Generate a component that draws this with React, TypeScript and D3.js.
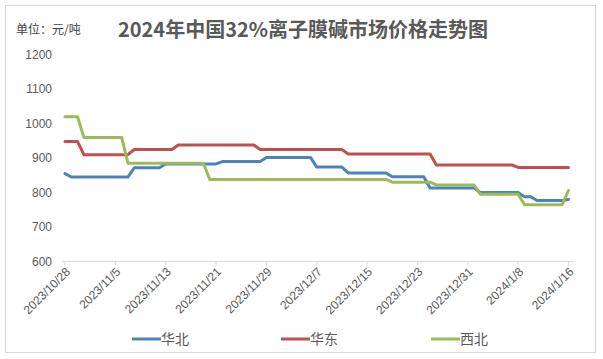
import * as d3 from 'd3';

// 华北 / 华东 / 西北 价格拐点（元/吨）
const huabeiDates = ['2023/10/28', '2023/10/29', '2023/11/7', '2023/11/8', '2023/11/12', '2023/11/13', '2023/11/21', '2023/11/22', '2023/11/28', '2023/11/29', '2023/12/6', '2023/12/7', '2023/12/11', '2023/12/12', '2023/12/18', '2023/12/19', '2023/12/24', '2023/12/25', '2024/1/1', '2024/1/2', '2024/1/8', '2024/1/9', '2024/1/10', '2024/1/11', '2024/1/15', '2024/1/16'];
const huabeiValues = [855, 845, 845, 872, 872, 883, 883, 890, 890, 902, 902, 874, 874, 857, 857, 846, 846, 813, 813, 800, 800, 788, 788, 777, 777, 780];

const huadongDates = ['2023/10/28', '2023/10/30', '2023/10/31', '2023/11/7', '2023/11/8', '2023/11/14', '2023/11/15', '2023/11/27', '2023/11/28', '2023/12/11', '2023/12/12', '2023/12/25', '2023/12/26', '2024/1/7', '2024/1/8', '2024/1/16'];
const huadongValues = [948, 948, 910, 910, 925, 925, 938, 938, 925, 925, 912, 912, 880, 880, 873, 873];

const xibeiDates = ['2023/10/28', '2023/10/30', '2023/10/31', '2023/11/6', '2023/11/7', '2023/11/19', '2023/11/20', '2023/12/18', '2023/12/19', '2023/12/25', '2023/12/26', '2024/1/1', '2024/1/2', '2024/1/8', '2024/1/9', '2024/1/15', '2024/1/16'];
const xibeiValues = [1020, 1020, 960, 960, 885, 885, 838, 838, 830, 830, 822, 822, 795, 795, 765, 765, 806];

const xTickLabels = ['2023/10/28', '2023/11/5', '2023/11/13', '2023/11/21', '2023/11/29', '2023/12/7', '2023/12/15', '2023/12/23', '2023/12/31', '2024/1/8', '2024/1/16'];
const yTicks = [600, 700, 800, 900, 1000, 1100, 1200];

const seriesNames = ['华北', '华东', '西北'];
const seriesColors = ['#4f81bd', '#c0504d', '#9bbb59'];

const parseDate = (s: string) => {
  const [y, m, d] = s.split('/').map(Number);
  return new Date(y, m - 1, d);
};

export default function App() {
  const width = 603;
  const height = 359;
  const font = '"Liberation Sans", Arial, "Noto Sans CJK SC", sans-serif';
  const cjk = '"Noto Sans CJK SC", sans-serif';

  const x = d3.scaleTime()
    .domain([parseDate('2023/10/28'), parseDate('2024/1/16')])
    .range([65, 568.5]);
  const y = d3.scaleLinear().domain([600, 1200]).range([261.5, 54.7]);

  const series = [
    { dates: huabeiDates, values: huabeiValues },
    { dates: huadongDates, values: huadongValues },
    { dates: xibeiDates, values: xibeiValues },
  ];

  const line = d3.line<[Date, number]>()
    .x(d => x(d[0]))
    .y(d => y(d[1]));

  const legendX = [132, 281, 431];

  return (
    <svg width={width} height={height} style={{ position: 'absolute', left: 0, top: 0, background: '#fff' }}>
      <rect x={5.5} y={5.5} width={590} height={347} fill="#fff" stroke="#d9d9d9" />

      {/* title and unit */}
      <text x={16} y={34} fontSize={12} fill="#404040" fontFamily={cjk}>单位：元/吨</text>
      <text x={303} y={37} textAnchor="middle" fontSize={20} fontWeight="bold" fill="#595959" fontFamily={cjk}>
        2024年中国32%离子膜碱市场价格走势图
      </text>

      {/* y labels */}
      {yTicks.map(t => (
        <text key={t} x={52} y={y(t)} dy="0.35em" textAnchor="end" fontSize={12} fill="#595959" fontFamily={font}>
          {t}
        </text>
      ))}

      {/* x axis */}
      <line x1={62} x2={574} y1={y(600)} y2={y(600)} stroke="#d9d9d9" strokeWidth={1} />
      {xTickLabels.map(t => {
        const px = x(parseDate(t));
        return (
          <g key={t}>
            <line x1={px} x2={px} y1={y(600)} y2={y(600) + 4} stroke="#d9d9d9" />
            <text
              transform={`translate(${px + 3},${y(600) + 8}) rotate(-45)`}
              textAnchor="end"
              dy="0.35em"
              fontSize={12}
              fill="#595959"
              fontFamily={font}
            >
              {t}
            </text>
          </g>
        );
      })}

      {/* lines */}
      {series.map((s, i) => (
        <path
          key={seriesNames[i]}
          d={line(s.dates.map((d, j) => [parseDate(d), s.values[j]] as [Date, number])) || ''}
          fill="none"
          stroke={seriesColors[i]}
          strokeWidth={3}
          strokeLinejoin="round"
          strokeLinecap="round"
        />
      ))}

      {/* legend */}
      {seriesNames.map((n, i) => (
        <g key={n} transform={`translate(${legendX[i]},339)`}>
          <line x1={0} x2={29} y1={0} y2={0} stroke={seriesColors[i]} strokeWidth={3} />
          <text x={29} y={0} dy="0.35em" fontSize={14} fill="#595959" fontFamily={cjk}>{n}</text>
        </g>
      ))}
    </svg>
  );
}
